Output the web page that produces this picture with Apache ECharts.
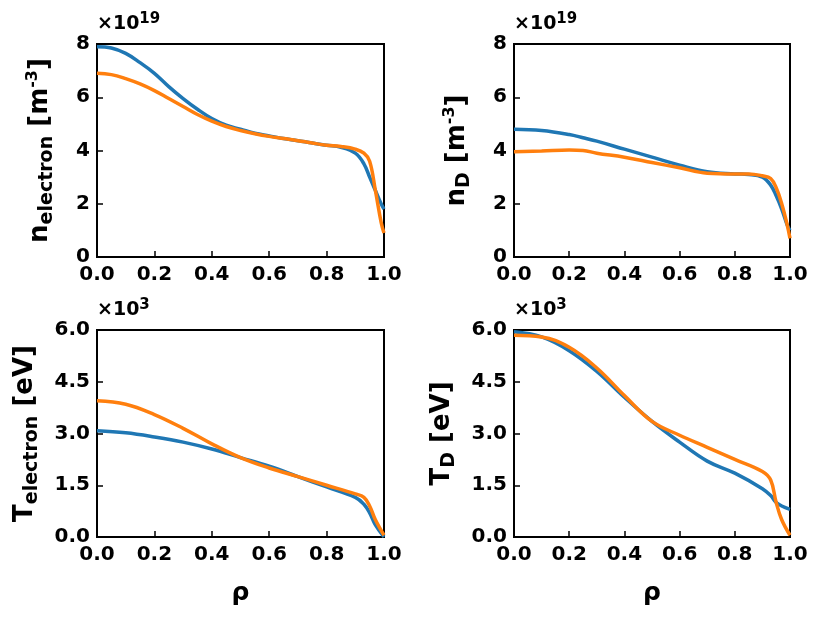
<!DOCTYPE html>
<html><head><meta charset="utf-8">
<script src="https://cdn.jsdelivr.net/npm/echarts@6/dist/echarts.min.js"></script>
<style>body{margin:0}#c{width:830px;height:623px}</style></head>
<body><div id="c"></div>
<script>
const xTicks = [0.0,0.2,0.4,0.6,0.8,1.0];
const neX = [0,0.05,0.1,0.15,0.2,0.25,0.3,0.35,0.4,0.45,0.5,0.55,0.6,0.65,0.7,0.75,0.8,0.85,0.9,0.93,0.95,0.97,0.99,1.0];
const neBlue = [7.9,7.85,7.65,7.3,6.9,6.4,5.95,5.55,5.2,4.95,4.8,4.65,4.55,4.45,4.37,4.28,4.2,4.12,3.9,3.5,3.0,2.5,2.0,1.8];
const neOrange = [6.9,6.85,6.7,6.5,6.25,5.95,5.65,5.35,5.1,4.9,4.75,4.63,4.53,4.45,4.37,4.28,4.2,4.15,4.05,3.9,3.6,2.5,1.3,0.9];
const ndX = [0,0.1,0.2,0.25,0.3,0.4,0.5,0.6,0.7,0.8,0.85,0.9,0.93,0.95,0.97,0.99,1.0];
const ndBlue = [4.8,4.75,4.6,4.48,4.35,4.05,3.75,3.45,3.2,3.12,3.1,3.0,2.7,2.3,1.8,1.2,1.0];
const ndOrange = [3.95,3.98,4.02,4.0,3.9,3.75,3.55,3.35,3.15,3.12,3.12,3.05,2.95,2.6,2.0,1.2,0.7];
const teX = [0,0.1,0.2,0.3,0.4,0.5,0.6,0.7,0.8,0.9,0.93,0.95,0.97,1.0];
const teBlue = [3.08,3.02,2.9,2.75,2.55,2.3,2.05,1.75,1.45,1.15,0.95,0.7,0.35,0.0];
const teOrange = [3.95,3.85,3.55,3.15,2.7,2.3,2.0,1.75,1.5,1.25,1.15,0.9,0.5,0.05];
const tdX = [0,0.1,0.2,0.3,0.4,0.5,0.6,0.7,0.8,0.9,0.93,0.95,0.97,1.0];
const tdBlue = [5.95,5.8,5.4,4.8,4.05,3.35,2.75,2.2,1.85,1.4,1.2,1.0,0.9,0.8];
const tdOrange = [5.85,5.8,5.5,4.9,4.1,3.35,2.95,2.6,2.25,1.9,1.65,1.0,0.5,0.05];

const pair = (xs, ys) => xs.map((x,i)=>[x,ys[i]]);
const F = 'DejaVu Sans';
const rich = {
  b:{fontSize:26,fontWeight:'bold',fontFamily:F,color:'#000'},
  s:{fontSize:19,fontWeight:'bold',fontFamily:F,color:'#000',padding:[15,0,0,0]},
  p:{fontSize:16,fontWeight:'bold',fontFamily:F,color:'#000',padding:[0,0,15,0]}
};
const grids = [
  {left:97,top:44,width:287,height:213},
  {left:514,top:44,width:276,height:213},
  {left:97,top:330,width:287,height:207},
  {left:514,top:330,width:276,height:207}
];
const yNames = ['{b|n}{s|electron}{b| [m}{p|-3}{b|]}','{b|n}{s|D}{b| [m}{p|-3}{b|]}','{b|T}{s|electron}{b| [eV]}','{b|T}{s|D}{b| [eV]}'];
const yMax=[8,8,6,6], yInt=[2,2,1.5,1.5];
const opt = {
  animation:false,
  grid: grids.map(g=>Object.assign({show:true,borderColor:'#000',borderWidth:2,containLabel:false},g)),
  xAxis: grids.map((g,i)=>({gridIndex:i,type:'value',min:0,max:1,interval:0.2,
    axisLine:{show:false},axisTick:{inside:true,length:6,lineStyle:{color:'#000',width:1.5}},
    splitLine:{show:false},
    axisLabel:{formatter:v=>v.toFixed(1),fontSize:20,fontWeight:'bold',fontFamily:F,color:'#000',margin:8},
    name:i>=2?'ρ':'',nameLocation:'middle',nameGap:44,
    nameTextStyle:{fontSize:25,fontWeight:'bold',fontFamily:F,color:'#000'}})),
  yAxis: grids.map((g,i)=>({gridIndex:i,type:'value',min:0,max:yMax[i],interval:yInt[i],
    axisLine:{show:false},axisTick:{inside:true,length:6,lineStyle:{color:'#000',width:1.5}},
    splitLine:{show:false},
    axisLabel:{formatter:v=>yInt[i]===2?v.toFixed(0):v.toFixed(1),fontSize:20,fontWeight:'bold',fontFamily:F,color:'#000',margin:7},
    name:yNames[i],nameLocation:'middle',nameGap:i>=2?55:40,nameRotate:90,
    nameTextStyle:{rich:rich}})),
  series: [
    [neX,neBlue,neOrange],[ndX,ndBlue,ndOrange],[teX,teBlue,teOrange],[tdX,tdBlue,tdOrange]
  ].flatMap((d,i)=>[
    {type:'line',xAxisIndex:i,yAxisIndex:i,smooth:0.4,symbol:'none',data:pair(d[0],d[1]),lineStyle:{color:'#1f77b4',width:3.5}},
    {type:'line',xAxisIndex:i,yAxisIndex:i,smooth:0.4,symbol:'none',data:pair(d[0],d[2]),lineStyle:{color:'#ff7f0e',width:3.5}}
  ]),
  graphic: [['19',97,12],['19',514,12],['3',97,298],['3',514,298]].map(a=>({type:'text',left:a[1],top:a[2],
    style:{text:'{m|×10}{e|'+a[0]+'}',rich:{m:{fontSize:19,fontWeight:'bold',fontFamily:F,fill:'#000'},e:{fontSize:15,fontWeight:'bold',fontFamily:F,fill:'#000',padding:[0,0,10,0]}}}}))
};
echarts.init(document.getElementById('c')).setOption(opt);
</script></body></html>
